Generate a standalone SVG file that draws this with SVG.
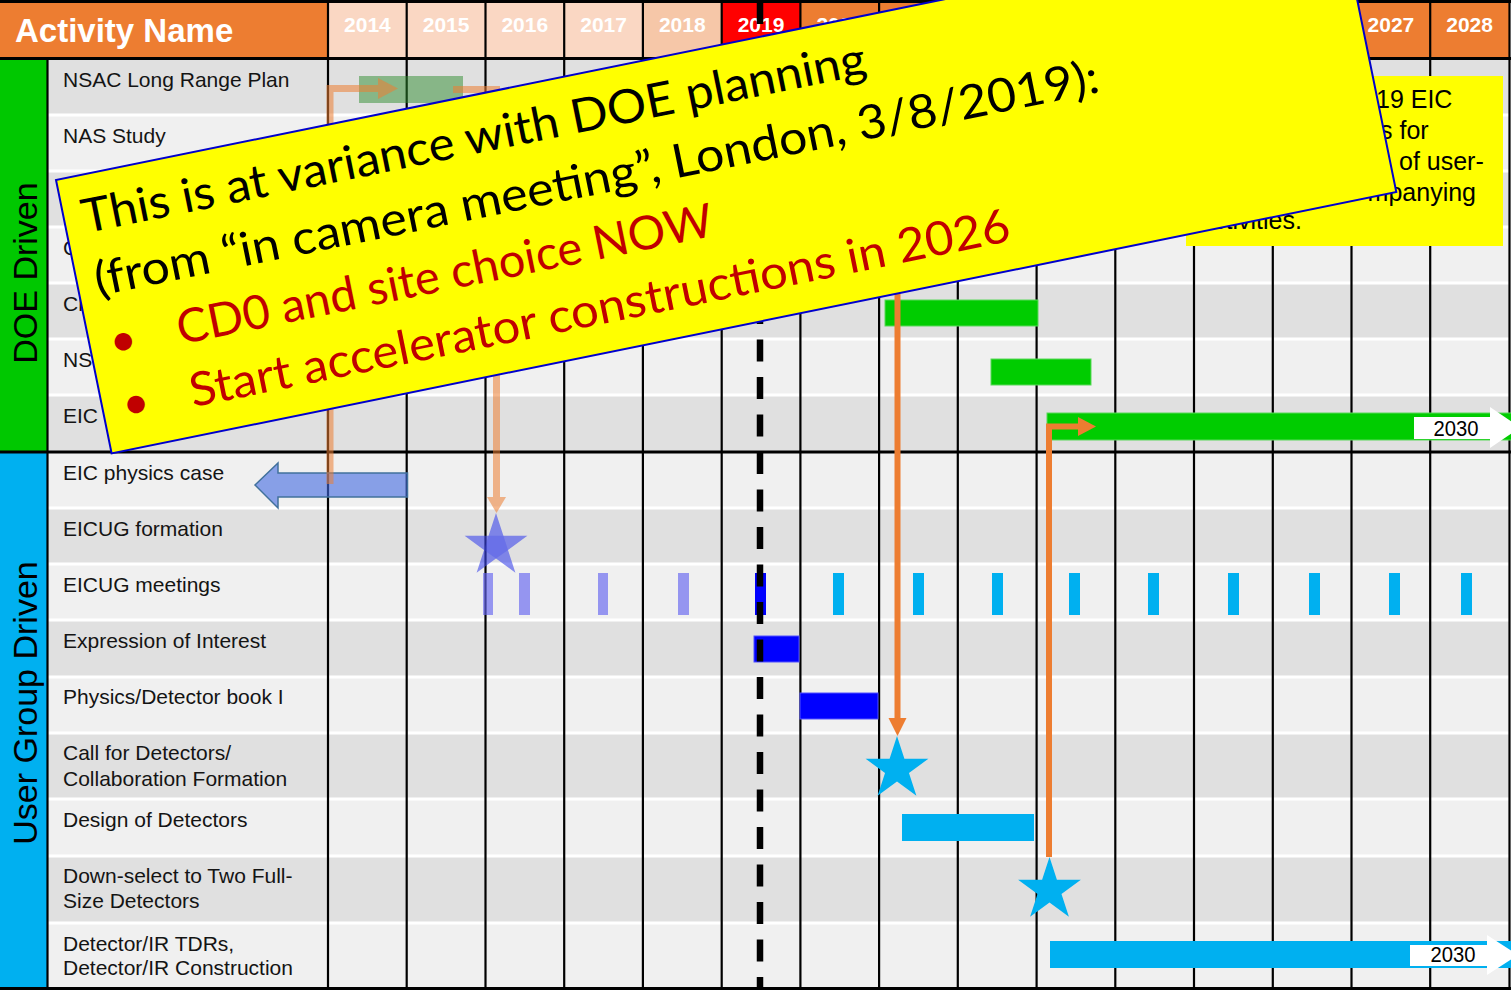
<svg xmlns="http://www.w3.org/2000/svg" width="1511" height="990" viewBox="0 0 1511 990">
  <style>
    .lbl { font-family: "Liberation Sans", Arial, sans-serif; font-size: 21px; fill: #141414; }
    .yr { font-family: "Liberation Sans", Arial, sans-serif; font-size: 21px; font-weight: bold; fill: #ffffff; text-anchor: middle; }
    .band { font-family: "Liberation Sans", Arial, sans-serif; font-size: 34px; fill: #000000; text-anchor: middle; }
    .dk { fill: #e0e0e0; }
    .lt { fill: #f0f0f0; }
    .sep { stroke: #ffffff; stroke-width: 3; }
    .vl { stroke: #000000; stroke-width: 2.2; }
    .hl { stroke: #000000; stroke-width: 3; }
    .g-bar { fill: #00cc00; stroke: #5ad85a; stroke-width: 1; }
    .c-bar { fill: #00b0f0; }
    .b-bar { fill: #0000ff; stroke: #5050ff; stroke-width: 1; }
    .tick-p { fill: #6464f0; fill-opacity: 0.65; }
    .tick-c { fill: #00b0f0; }
    .end-lbl { font-family: "Liberation Sans", Arial, sans-serif; font-size: 22px; fill: #000000; text-anchor: middle; }
    .note { font-family: "Liberation Sans", Arial, sans-serif; font-size: 25px; fill: #000000; }
    .ban { font-family: Lato, "Open Sans", sans-serif; font-size: 47px; }
    .blk { fill: #000000; }
    .red { fill: #c00000; }
    .conn-soft { fill: none; stroke: #ed7d31; stroke-opacity: 0.55; stroke-width: 7; }
    .head-soft { fill: #ed7d31; fill-opacity: 0.55; }
    .conn { fill: none; stroke: #ed7d31; stroke-width: 6; }
    .head { fill: #ed7d31; }
  </style>
  <defs>
    <path id="star" d="M0,-33 L7.41,-10.19 L31.39,-10.2 L11.98,3.89 L19.4,26.7 L0,12.6 L-19.4,26.7 L-11.98,3.89 L-31.39,-10.2 L-7.41,-10.19 Z"/>
    <path id="pent" d="M7.41,-10.19 L11.98,3.89 L0,12.6 L-11.98,3.89 L-7.41,-10.19 Z"/>
  </defs>

  <!-- page -->
  <rect x="0" y="0" width="1511" height="990" fill="#ffffff"/>

  <!-- header row -->
  <g id="header">
    <rect x="0" y="2" width="328" height="56" fill="#ed7d31"/>
    <text x="15" y="42" font-family="Liberation Sans, Arial, sans-serif" font-size="33" font-weight="bold" fill="#ffffff">Activity Name</text>
    <rect x="328" y="2" width="314.9" height="56" fill="#fad7c3"/>
    <rect x="642.9" y="2" width="78.8" height="56" fill="#f6c7a8"/>
    <rect x="721.7" y="2" width="78.7" height="56" fill="#ff0000"/>
    <rect x="800.4" y="2" width="708.6" height="56" fill="#ed7d31"/>
    <text class="yr" x="367.4" y="32">2014</text>
    <text class="yr" x="446.1" y="32">2015</text>
    <text class="yr" x="524.8" y="32">2016</text>
    <text class="yr" x="603.6" y="32">2017</text>
    <text class="yr" x="682.3" y="32">2018</text>
    <text class="yr" x="761" y="32">2019</text>
    <text class="yr" x="839.8" y="32">2020</text>
    <text class="yr" x="918.5" y="32">2021</text>
    <text class="yr" x="997.2" y="32">2022</text>
    <text class="yr" x="1075.9" y="32">2023</text>
    <text class="yr" x="1154.7" y="32">2024</text>
    <text class="yr" x="1233.4" y="32">2025</text>
    <text class="yr" x="1312.1" y="32">2026</text>
    <text class="yr" x="1390.9" y="32">2027</text>
    <text class="yr" x="1469.6" y="32">2028</text>
  </g>

  <!-- side bands -->
  <g id="band-doe">
    <rect x="0" y="59" width="47.5" height="393" fill="#00c800"/>
    <text class="band" transform="translate(37,273) rotate(-90)">DOE Driven</text>
  </g>
  <g id="band-user">
    <rect x="0" y="452" width="47.5" height="536" fill="#00b0f0"/>
    <text class="band" transform="translate(37,703) rotate(-90)">User Group Driven</text>
  </g>

  <!-- activity rows -->
  <g id="row-nsac"><rect class="dk" x="48" y="59" width="1461" height="56"/><text class="lbl" x="63" y="87">NSAC Long Range Plan</text></g>
  <g id="row-nas"><rect class="lt" x="48" y="115" width="1461" height="56"/><text class="lbl" x="63" y="143">NAS Study</text></g>
  <g id="row-doe3"><rect class="dk" x="48" y="171" width="1461" height="56"/></g>
  <g id="row-doe4"><rect class="lt" x="48" y="227" width="1461" height="56"/><text class="lbl" x="63" y="255">C</text></g>
  <g id="row-doe5"><rect class="dk" x="48" y="283" width="1461" height="56"/><text class="lbl" x="63" y="311">Cl</text></g>
  <g id="row-doe6"><rect class="lt" x="48" y="339" width="1461" height="56"/><text class="lbl" x="63" y="367">NS</text></g>
  <g id="row-doe7"><rect class="dk" x="48" y="395" width="1461" height="57"/><text class="lbl" x="63" y="423">EIC</text></g>
  <g id="row-physics"><rect class="lt" x="48" y="452" width="1461" height="56"/><text class="lbl" x="63" y="480">EIC physics case</text></g>
  <g id="row-formation"><rect class="dk" x="48" y="508" width="1461" height="56"/><text class="lbl" x="63" y="536">EICUG formation</text></g>
  <g id="row-meetings"><rect class="lt" x="48" y="564" width="1461" height="56"/><text class="lbl" x="63" y="592">EICUG meetings</text></g>
  <g id="row-eoi"><rect class="dk" x="48" y="620" width="1461" height="57"/><text class="lbl" x="63" y="648">Expression of Interest</text></g>
  <g id="row-book"><rect class="lt" x="48" y="677" width="1461" height="56"/><text class="lbl" x="63" y="704">Physics/Detector book I</text></g>
  <g id="row-call"><rect class="dk" x="48" y="733" width="1461" height="66"/><text class="lbl" x="63" y="760">Call for Detectors/</text><text class="lbl" x="63" y="786">Collaboration Formation</text></g>
  <g id="row-design"><rect class="lt" x="48" y="799" width="1461" height="57"/><text class="lbl" x="63" y="827">Design of Detectors</text></g>
  <g id="row-downselect"><rect class="dk" x="48" y="856" width="1461" height="67"/><text class="lbl" x="63" y="883">Down-select to Two Full-</text><text class="lbl" x="63" y="908">Size Detectors</text></g>
  <g id="row-tdr"><rect class="lt" x="48" y="923" width="1461" height="65"/><text class="lbl" x="63" y="951">Detector/IR TDRs,</text><text class="lbl" x="63" y="975">Detector/IR Construction</text></g>

  <!-- grid -->
  <g id="grid">
    <line class="sep" x1="48" y1="115" x2="1509" y2="115"/>
    <line class="sep" x1="48" y1="171" x2="1509" y2="171"/>
    <line class="sep" x1="48" y1="227" x2="1509" y2="227"/>
    <line class="sep" x1="48" y1="283" x2="1509" y2="283"/>
    <line class="sep" x1="48" y1="339" x2="1509" y2="339"/>
    <line class="sep" x1="48" y1="395" x2="1509" y2="395"/>
    <line class="sep" x1="48" y1="508" x2="1509" y2="508"/>
    <line class="sep" x1="48" y1="564" x2="1509" y2="564"/>
    <line class="sep" x1="48" y1="620" x2="1509" y2="620"/>
    <line class="sep" x1="48" y1="677" x2="1509" y2="677"/>
    <line class="sep" x1="48" y1="733" x2="1509" y2="733"/>
    <line class="sep" x1="48" y1="799" x2="1509" y2="799"/>
    <line class="sep" x1="48" y1="856" x2="1509" y2="856"/>
    <line class="sep" x1="48" y1="923" x2="1509" y2="923"/>
    <line class="vl" x1="47.5" y1="59" x2="47.5" y2="988"/>
    <line class="vl" x1="328" y1="2" x2="328" y2="988"/>
    <line class="vl" x1="406.7" y1="2" x2="406.7" y2="988"/>
    <line class="vl" x1="485.5" y1="2" x2="485.5" y2="988"/>
    <line class="vl" x1="564.2" y1="2" x2="564.2" y2="988"/>
    <line class="vl" x1="642.9" y1="2" x2="642.9" y2="988"/>
    <line class="vl" x1="721.7" y1="2" x2="721.7" y2="988"/>
    <line class="vl" x1="800.4" y1="2" x2="800.4" y2="988"/>
    <line class="vl" x1="879.1" y1="2" x2="879.1" y2="988"/>
    <line class="vl" x1="957.8" y1="2" x2="957.8" y2="988"/>
    <line class="vl" x1="1036.6" y1="2" x2="1036.6" y2="988"/>
    <line class="vl" x1="1115.3" y1="2" x2="1115.3" y2="988"/>
    <line class="vl" x1="1194" y1="2" x2="1194" y2="988"/>
    <line class="vl" x1="1272.8" y1="2" x2="1272.8" y2="988"/>
    <line class="vl" x1="1351.5" y1="2" x2="1351.5" y2="988"/>
    <line class="vl" x1="1430.2" y1="2" x2="1430.2" y2="988"/>
    <line class="vl" x1="1509.5" y1="2" x2="1509.5" y2="988"/>
    <line class="hl" x1="0" y1="1.5" x2="1511" y2="1.5"/>
    <line class="hl" x1="0" y1="58.5" x2="1511" y2="58.5"/>
    <line class="hl" x1="0" y1="452" x2="1511" y2="452"/>
    <line class="hl" x1="0" y1="988.5" x2="1511" y2="988.5"/>
  </g>

  <!-- schedule bars and milestones -->
  <g id="bar-nsac"><rect x="359" y="76" width="104" height="27" fill="#2e8b2e" fill-opacity="0.5"/></g>
  <g id="bar-doe5"><rect class="g-bar" x="885" y="300" width="153" height="26"/></g>
  <g id="bar-doe6"><rect class="g-bar" x="991" y="359" width="100" height="26"/></g>
  <g id="bar-eic">
    <rect class="g-bar" x="1047" y="413" width="470" height="27"/>
    <rect x="1414" y="417" width="77" height="22" fill="#ffffff"/>
    <polygon points="1490,407 1520,427.5 1490,448" fill="#ffffff"/>
    <text class="end-lbl" x="1456" y="436" textLength="45" lengthAdjust="spacingAndGlyphs">2030</text>
  </g>
  <g id="arrow-physics">
    <polygon points="255,485 278,463 278,473 407.5,473 407.5,497 278,497 278,508" fill="#4169e1" fill-opacity="0.6" stroke="#41719c" stroke-width="1.5"/>
  </g>
  <g id="star-formation">
    <use href="#star" transform="translate(496,546)" fill="#3c46eb" fill-opacity="0.6"/>
    <use href="#pent" transform="translate(496,546)" fill="#3c46eb" fill-opacity="0.3"/>
  </g>
  <g id="ticks-meetings">
    <rect class="tick-p" x="483" y="573" width="10" height="42"/>
    <rect class="tick-p" x="519" y="573" width="11" height="42"/>
    <rect class="tick-p" x="598" y="573" width="10" height="42"/>
    <rect class="tick-p" x="678" y="573" width="11" height="42"/>
    <rect x="755" y="573" width="11" height="42" fill="#0000ff"/>
    <rect class="tick-c" x="833" y="573" width="11" height="42"/>
    <rect class="tick-c" x="913" y="573" width="11" height="42"/>
    <rect class="tick-c" x="992" y="573" width="11" height="42"/>
    <rect class="tick-c" x="1069" y="573" width="11" height="42"/>
    <rect class="tick-c" x="1148" y="573" width="11" height="42"/>
    <rect class="tick-c" x="1228" y="573" width="11" height="42"/>
    <rect class="tick-c" x="1309" y="573" width="11" height="42"/>
    <rect class="tick-c" x="1389" y="573" width="11" height="42"/>
    <rect class="tick-c" x="1461" y="573" width="11" height="42"/>
  </g>
  <g id="bar-eoi"><rect class="b-bar" x="754" y="636" width="45" height="26"/></g>
  <g id="bar-book"><rect class="b-bar" x="800" y="693" width="78" height="26"/></g>
  <g id="star-call"><use href="#star" transform="translate(897,769)" fill="#00b0f0"/></g>
  <g id="bar-design"><rect class="c-bar" x="902" y="814" width="132" height="27"/></g>
  <g id="star-downselect"><use href="#star" transform="translate(1049.5,890)" fill="#00b0f0"/></g>
  <g id="bar-tdr">
    <rect class="c-bar" x="1050" y="941" width="470" height="27"/>
    <rect x="1410" y="945" width="77" height="21" fill="#ffffff"/>
    <polygon points="1487,935 1518,955 1487,975" fill="#ffffff"/>
    <text class="end-lbl" x="1453" y="962" textLength="45" lengthAdjust="spacingAndGlyphs">2030</text>
  </g>

  <!-- dependency connectors -->
  <g id="connectors">
    <path class="conn-soft" d="M330,484 V88.5 H378"/>
    <polygon class="head-soft" points="378,78 398,88.5 378,99"/>
    <path class="conn-soft" d="M453,89.5 H496.5 V497"/>
    <polygon class="head-soft" points="487,497 506,497 496.5,513"/>
    <path class="conn" d="M897.5,270 V718"/>
    <polygon class="head" points="888.5,718 906.5,718 897.5,736"/>
    <path class="conn" d="M1049,857 V426.5 H1078"/>
    <polygon class="head" points="1078,417 1096,426.5 1078,436"/>
  </g>

  <!-- current-year marker -->
  <line id="today" x1="760" y1="2" x2="760" y2="988" stroke="#000000" stroke-width="6.5" stroke-dasharray="22 15.5"/>

  <!-- side note box -->
  <g id="note-box">
    <rect x="1186" y="76" width="317" height="170" fill="#ffff00"/>
    <text class="note" x="1376" y="108">19 EIC</text>
    <text class="note" x="1380" y="139">s for</text>
    <text class="note" x="1399" y="170">of user-</text>
    <text class="note" x="1476" y="201" text-anchor="end">mpanying</text>
    <text class="note" x="1213" y="229">ctivities.</text>
  </g>

  <!-- tilted call-out -->
  <g id="callout" transform="translate(56,180) rotate(-11.5)">
    <rect x="0" y="0" width="1311" height="279" fill="#ffff00" stroke="#0000cc" stroke-width="2"/>
    <text class="ban blk" x="18" y="58" textLength="799" lengthAdjust="spacingAndGlyphs">This is at variance with DOE planning</text>
    <text class="ban blk" x="18" y="122" textLength="1024" lengthAdjust="spacingAndGlyphs">(from “in camera meeting”, London, 3/8/2019):</text>
    <text class="ban red" x="20" y="186">•</text>
    <text class="ban red" x="89" y="186" textLength="546" lengthAdjust="spacingAndGlyphs">CD0 and site choice NOW</text>
    <text class="ban red" x="20" y="250">•</text>
    <text class="ban red" x="89" y="250" textLength="836" lengthAdjust="spacingAndGlyphs">Start accelerator constructions in 2026</text>
  </g>
</svg>
